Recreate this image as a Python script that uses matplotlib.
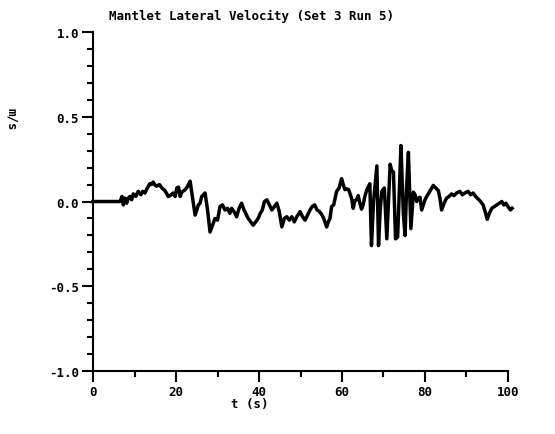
import matplotlib
matplotlib.use("Agg")
import matplotlib.pyplot as plt
from matplotlib.ticker import MultipleLocator

# Lateral velocity record, time in seconds and velocity in m/s
time_s = [
    0.0, 5.5, 6.5, 7.0, 7.3, 7.7, 8.1, 8.5, 8.9, 9.3, 9.7, 10.3, 10.9, 11.5,
    12.0, 12.5, 13.1, 13.7, 14.1, 14.5, 15.0, 15.3, 16.0, 16.6, 17.3, 17.8,
    18.1, 18.6, 19.3, 19.8, 20.2, 20.6, 21.0, 21.4, 22.2, 22.8, 23.4, 24.0,
    24.6, 25.0, 25.4, 25.8, 26.2, 27.0, 27.6, 28.2, 28.8, 29.4, 30.0, 30.6,
    31.2, 31.8, 32.4, 33.0, 33.4, 34.0, 34.6, 35.2, 35.8, 36.4, 37.0, 37.4,
    38.0, 38.6, 39.2, 39.8, 40.3, 40.8, 41.3, 41.9, 42.5, 43.1, 43.7, 44.3,
    44.9, 45.5, 46.1, 46.7, 47.3, 47.9, 48.5, 49.1, 49.9, 50.5, 51.1, 51.7,
    52.3, 52.8, 53.4, 54.0, 54.6, 55.2, 55.6, 56.3, 56.7, 57.1, 57.5, 58.0,
    58.7, 59.3, 59.9, 60.3, 60.7, 61.1, 61.6, 62.3, 62.7, 63.1, 63.5, 63.9,
    64.3, 64.7, 65.1, 65.5, 66.0, 66.7, 67.1, 67.6, 68.4, 68.8, 69.2, 69.6,
    70.2, 70.8, 71.6, 72.0, 72.4, 72.9, 73.4, 73.8, 74.2, 74.8, 75.2, 75.6,
    76.0, 76.6, 77.2, 77.6, 78.0, 78.4, 78.8, 79.2, 79.6, 80.0, 80.4, 80.8,
    81.4, 82.0, 82.6, 83.2, 83.6, 84.0, 84.6, 85.2, 85.8, 86.4, 87.0, 87.6,
    88.4, 89.0, 89.6, 90.4, 91.0, 91.6, 92.2, 92.8, 93.4, 94.0, 94.5, 95.0,
    95.5, 96.1, 96.7, 97.3, 97.9, 98.5, 99.0, 99.5, 100.0, 100.6, 101.0,
]
velocity = [
    0.0, 0.0, 0.0, 0.03, -0.02, 0.02, -0.01, 0.02, 0.03, 0.01, 0.045, 0.03,
    0.06, 0.04, 0.06, 0.05, 0.08, 0.105, 0.10, 0.115, 0.095, 0.09, 0.10, 0.08,
    0.065, 0.045, 0.03, 0.035, 0.05, 0.03, 0.08, 0.085, 0.03, 0.055, 0.07,
    0.09, 0.12, 0.02, -0.08, -0.05, -0.02, -0.01, 0.03, 0.05, -0.05, -0.18,
    -0.14, -0.10, -0.11, -0.03, -0.02, -0.05, -0.04, -0.07, -0.04, -0.06,
    -0.09, -0.04, -0.01, -0.05, -0.08, -0.10, -0.12, -0.14, -0.12, -0.10,
    -0.07, -0.05, 0.0, 0.01, -0.02, -0.05, -0.03, -0.01, -0.06, -0.15, -0.10,
    -0.09, -0.11, -0.09, -0.12, -0.09, -0.06, -0.09, -0.11, -0.08, -0.05,
    -0.03, -0.02, -0.05, -0.06, -0.08, -0.10, -0.15, -0.12, -0.10, -0.03,
    -0.02, 0.06, 0.08, 0.135, 0.10, 0.07, 0.075, 0.07, 0.02, -0.04, 0.005,
    0.01, 0.035, -0.01, -0.045, -0.02, 0.03, 0.07, 0.105, -0.26, 0.0, 0.21,
    -0.26, -0.05, 0.06, 0.08, -0.22, 0.22, 0.18, 0.175, -0.22, -0.21, 0.05,
    0.33, -0.08, -0.20, 0.10, 0.29, -0.16, 0.055, 0.04, 0.0, 0.02, 0.025,
    -0.05, -0.02, 0.01, 0.03, 0.045, 0.07, 0.095, 0.08, 0.065, 0.02, -0.05,
    -0.01, 0.02, 0.03, 0.045, 0.035, 0.05, 0.06, 0.04, 0.05, 0.06, 0.04, 0.05,
    0.03, 0.015, 0.0, -0.02, -0.06, -0.105, -0.07, -0.04, -0.03, -0.02, -0.01,
    0.0, -0.02, -0.01, -0.03, -0.05, -0.04,
]

x_ticks = [0, 20, 40, 60, 80, 100]
x_tick_labels = ["0", "20", "40", "60", "80", "100"]
y_ticks = [-1.0, -0.5, 0.0, 0.5, 1.0]
y_tick_labels = ["-1.0", "-0.5", "0.0", "0.5", "1.0"]

title = "Mantlet Lateral Velocity (Set 3 Run 5)"
x_label = "t (s)"
y_label = "m/s"

font = dict(family="DejaVu Sans Mono", weight="bold")

fig = plt.figure(figsize=(5.55, 4.35), dpi=100)
ax = fig.add_axes([0.1676, 0.1448, 0.7477, 0.7793])

ax.plot(time_s, velocity, color="black", linewidth=2.5, clip_on=False,
        solid_joinstyle="round")

ax.set_xlim(0, 100)
ax.set_ylim(-1.0, 1.0)

for side in ("top", "right"):
    ax.spines[side].set_visible(False)
for side in ("left", "bottom"):
    ax.spines[side].set_linewidth(1.5)

ax.set_xticks(x_ticks)
ax.set_xticklabels(x_tick_labels, fontsize=9, **font)
ax.set_yticks(y_ticks)
ax.set_yticklabels(y_tick_labels, fontsize=9, **font)
ax.xaxis.set_minor_locator(MultipleLocator(10))
ax.yaxis.set_minor_locator(MultipleLocator(0.1))
ax.tick_params(axis="both", which="major", direction="out", length=8,
               width=1.5, pad=2)
ax.tick_params(axis="both", which="minor", direction="out", length=4,
               width=1.5)

fig.text(0.453, 0.962, title, ha="center", va="center", fontsize=9, **font)
fig.text(0.45, 0.07, x_label, ha="center", va="center", fontsize=9, **font)
fig.text(0.02, 0.725, y_label, ha="center", va="center", rotation=270,
         fontsize=9, **font)

fig.savefig("out.png", dpi=100)
